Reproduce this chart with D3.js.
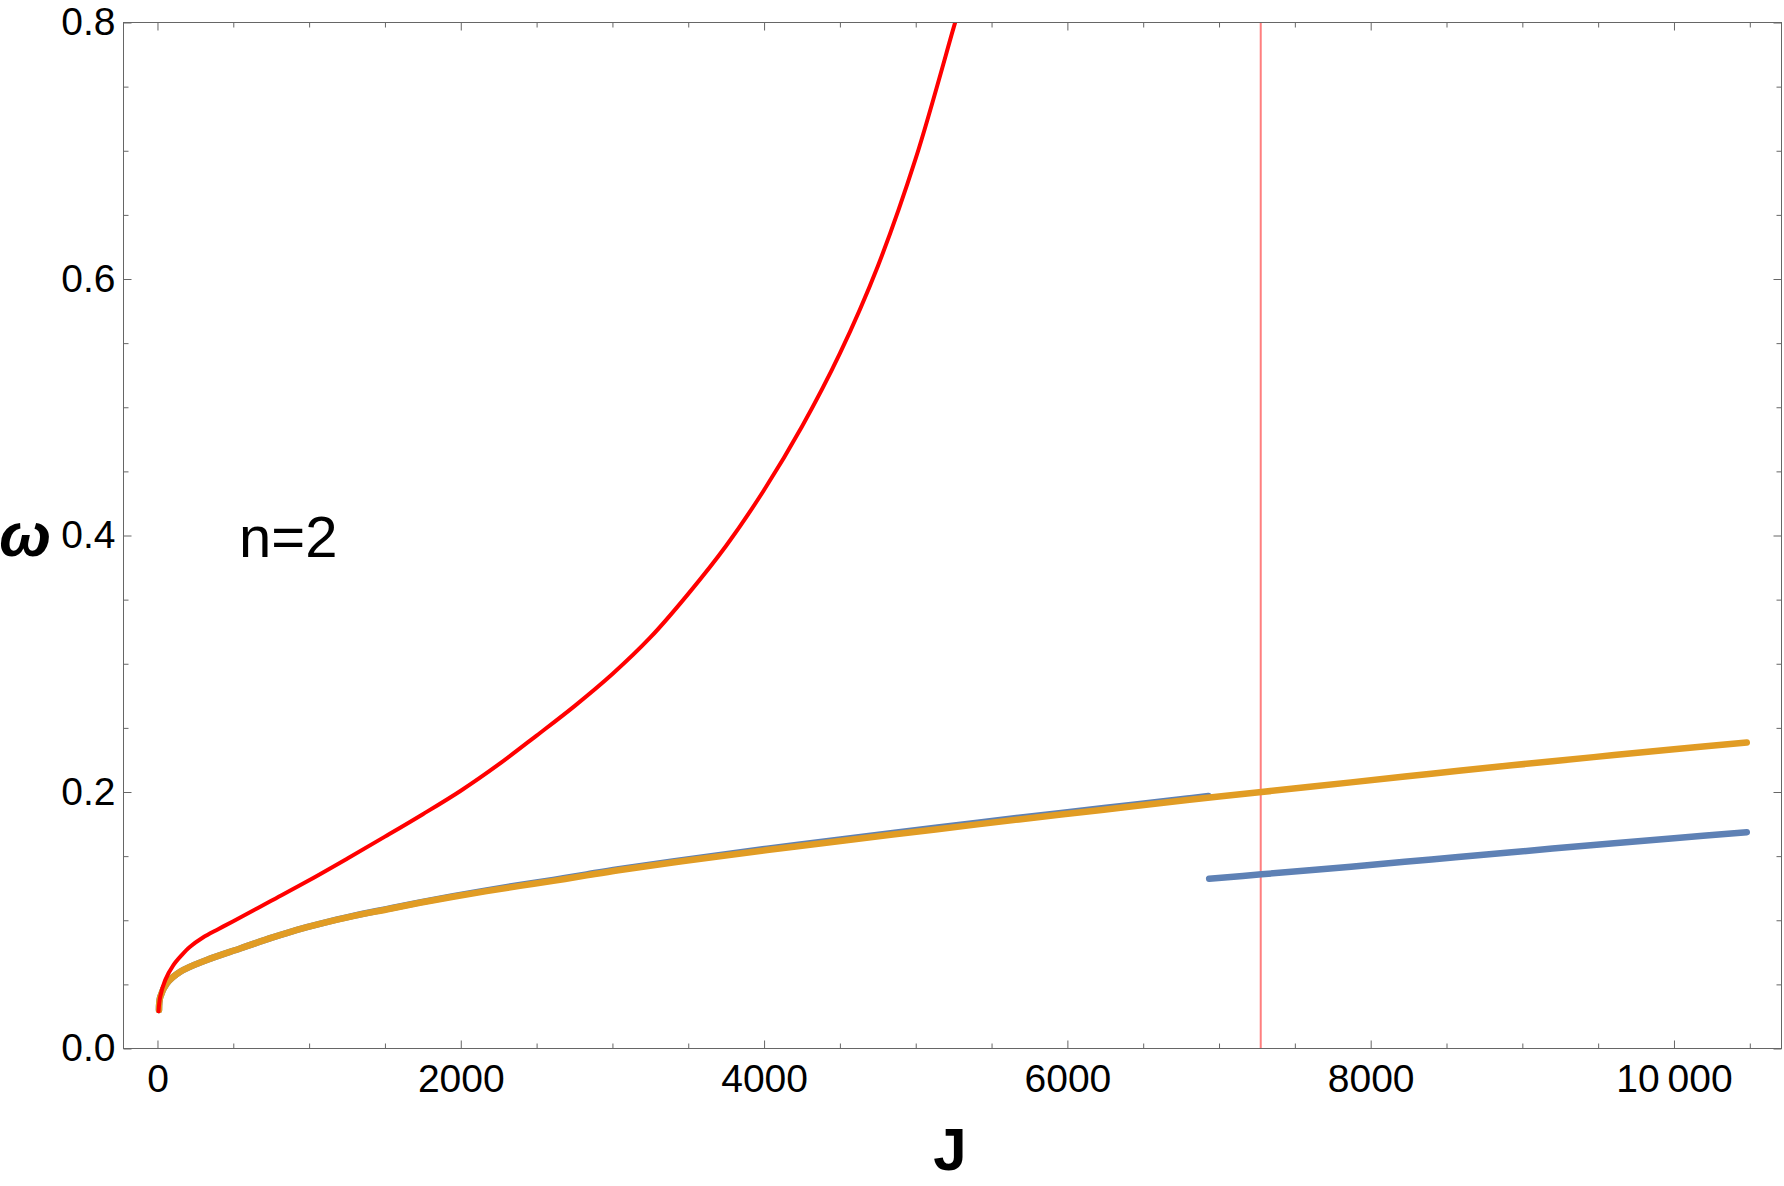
<!DOCTYPE html>
<html>
<head>
<meta charset="utf-8">
<script src="https://cdn.jsdelivr.net/npm/d3@7/dist/d3.min.js"></script>
<style>
  html, body { margin: 0; padding: 0; background: #fff; }
  #chart { width: 1784px; height: 1186px; }
  text { font-family: 'Liberation Sans', Arial, sans-serif; }
</style>
</head>
<body>
<div id="chart"></div>
<script>
// red curve
const redJ = [7, 18, 51, 105, 160, 215, 300, 400, 500, 750, 1000, 1250, 1500, 1750, 2000,
  2250, 2500, 2750, 3000, 3250, 3500, 3750, 4000, 4250, 4500, 4750, 5000, 5250, 5275];
const redW = [0.029, 0.0403, 0.0533, 0.065, 0.0728, 0.0793, 0.0865, 0.093, 0.0993, 0.1152, 0.1312,
  0.148, 0.1652, 0.1827, 0.201, 0.2215, 0.244, 0.267, 0.292, 0.3205, 0.3545, 0.392, 0.4355,
  0.485, 0.542, 0.61, 0.694, 0.796, 0.806];

// upper blue branch (ends where the lower one starts)
const blueUpperJ = [10, 18, 60, 150, 325, 545, 760, 920, 1070, 1290, 1510, 1730, 1950, 2170, 2390,
  2610, 2830, 3040, 3470, 4020, 4570, 5130, 5680, 6240, 6790, 6930];
const blueUpperW = [0.030, 0.040, 0.0505, 0.0598, 0.069, 0.078, 0.0866, 0.0925, 0.0972, 0.1034,
  0.1087, 0.1139, 0.1188, 0.1233, 0.1275, 0.1315, 0.1358, 0.1398, 0.1471, 0.1558, 0.164, 0.1721,
  0.1799, 0.1875, 0.195, 0.1968];

// lower blue branch
const blueLowerJ = [6935, 7280, 7870, 8400, 8930, 9470, 10000, 10480];
const blueLowerW = [0.1323, 0.1358, 0.1418, 0.1474, 0.153, 0.1587, 0.164, 0.1687];

// orange series
const orangeJ = [10, 18, 60, 150, 325, 545, 760, 920, 1070, 1290, 1510, 1730, 1950, 2170, 2390,
  2610, 2830, 3040, 3470, 4020, 4570, 5130, 5680, 6240, 6790, 7280, 7870, 8400, 8930, 9470, 10000, 10480];
const orangeW = [0.030, 0.040, 0.0505, 0.0598, 0.069, 0.078, 0.0866, 0.0925, 0.0972, 0.1032, 0.1084,
  0.1136, 0.1183, 0.1227, 0.1268, 0.1307, 0.135, 0.139, 0.1462, 0.1547, 0.1628, 0.1708, 0.1786,
  0.1862, 0.1937, 0.2, 0.2075, 0.2143, 0.2208, 0.2272, 0.2333, 0.2386];

const markerJ = 7275;

const xMajorTicks = [0, 2000, 4000, 6000, 8000, 10000];
const xTickLabels = ['0', '2000', '4000', '6000', '8000', '10\u2009000'];
const xMinorTicks = [500, 1000, 1500, 2500, 3000, 3500, 4500, 5000, 5500, 6500, 7000, 7500,
  8500, 9000, 9500, 10500];
const yMajorTicks = [0, 0.2, 0.4, 0.6, 0.8];
const yTickLabels = ['0.0', '0.2', '0.4', '0.6', '0.8'];
const yMinorTicks = [0.05, 0.1, 0.15, 0.25, 0.3, 0.35, 0.45, 0.5, 0.55, 0.65, 0.7, 0.75];

const config = {
  width: 1784,
  height: 1186,
  frame: { left: 123.5, right: 1781.5, top: 22.5, bottom: 1048.5 },
  xRange: [-224, 10709],
  yRange: [0, 0.8],
  colors: {
    red: '#ff0000',
    blue: '#5e81b5',
    orange: '#e19c24',
    marker: '#ff7f7f',
    frame: '#666666',
    text: '#000000'
  }
};

function zipSeries(js, ws) {
  return js.map((j, i) => ({ j: j, w: ws[i] }));
}

const svg = d3.select('#chart')
  .append('svg')
  .attr('width', config.width)
  .attr('height', config.height)
  .style('display', 'block');

const f = config.frame;
const x = d3.scaleLinear().domain(config.xRange).range([f.left, f.right]);
const y = d3.scaleLinear().domain(config.yRange).range([f.bottom, f.top]);

svg.append('defs').append('clipPath')
  .attr('id', 'plot-clip')
  .append('rect')
  .attr('x', f.left)
  .attr('y', f.top)
  .attr('width', f.right - f.left)
  .attr('height', f.bottom - f.top);

const plot = svg.append('g').attr('clip-path', 'url(#plot-clip)');

const line = d3.line()
  .x(d => x(d.j))
  .y(d => y(d.w))
  .curve(d3.curveCatmullRom.alpha(0.5));

function drawSeries(data, color, width) {
  plot.append('path')
    .datum(data)
    .attr('fill', 'none')
    .attr('stroke', color)
    .attr('stroke-width', width)
    .attr('stroke-linecap', 'round')
    .attr('stroke-linejoin', 'round')
    .attr('d', line);
}

// marker line
plot.append('line')
  .attr('x1', x(markerJ))
  .attr('x2', x(markerJ))
  .attr('y1', f.top)
  .attr('y2', f.bottom)
  .attr('stroke', config.colors.marker)
  .attr('stroke-width', 2);

drawSeries(zipSeries(blueUpperJ, blueUpperW), config.colors.blue, 6.5);
drawSeries(zipSeries(blueLowerJ, blueLowerW), config.colors.blue, 6.5);
drawSeries(zipSeries(orangeJ, orangeW), config.colors.orange, 6.5);
drawSeries(zipSeries(redJ, redW), config.colors.red, 4);

// frame with inward ticks on all four sides
function styleAxis(g) {
  g.select('.domain').remove();
  g.selectAll('.tick line').attr('stroke', config.colors.frame).attr('stroke-width', 1);
  g.selectAll('.tick text')
    .attr('fill', config.colors.text)
    .style('font-size', '39px')
    .style('font-family', "'Liberation Sans', Arial, sans-serif");
}

const xLabel = d3.scaleOrdinal().domain(xMajorTicks).range(xTickLabels);
const yLabel = d3.scaleOrdinal().domain(yMajorTicks).range(yTickLabels);

svg.append('g')
  .attr('transform', `translate(0,${f.bottom})`)
  .call(d3.axisBottom(x).tickValues(xMajorTicks).tickSizeInner(-8).tickSizeOuter(0)
    .tickPadding(16).tickFormat(d => xLabel(d)))
  .call(styleAxis);
svg.append('g')
  .attr('transform', `translate(0,${f.bottom})`)
  .call(d3.axisBottom(x).tickValues(xMinorTicks).tickSizeInner(-5).tickSizeOuter(0).tickFormat(''))
  .call(styleAxis);
svg.append('g')
  .attr('transform', `translate(0,${f.top})`)
  .call(d3.axisTop(x).tickValues(xMajorTicks).tickSizeInner(-8).tickSizeOuter(0).tickFormat(''))
  .call(styleAxis);
svg.append('g')
  .attr('transform', `translate(0,${f.top})`)
  .call(d3.axisTop(x).tickValues(xMinorTicks).tickSizeInner(-5).tickSizeOuter(0).tickFormat(''))
  .call(styleAxis);

svg.append('g')
  .attr('transform', `translate(${f.left},0)`)
  .call(d3.axisLeft(y).tickValues(yMajorTicks).tickSizeInner(-8).tickSizeOuter(0)
    .tickPadding(8).tickFormat(d => yLabel(d)))
  .call(styleAxis);
svg.append('g')
  .attr('transform', `translate(${f.left},0)`)
  .call(d3.axisLeft(y).tickValues(yMinorTicks).tickSizeInner(-5).tickSizeOuter(0).tickFormat(''))
  .call(styleAxis);
svg.append('g')
  .attr('transform', `translate(${f.right},0)`)
  .call(d3.axisRight(y).tickValues(yMajorTicks).tickSizeInner(-8).tickSizeOuter(0).tickFormat(''))
  .call(styleAxis);
svg.append('g')
  .attr('transform', `translate(${f.right},0)`)
  .call(d3.axisRight(y).tickValues(yMinorTicks).tickSizeInner(-5).tickSizeOuter(0).tickFormat(''))
  .call(styleAxis);

svg.append('rect')
  .attr('x', f.left)
  .attr('y', f.top)
  .attr('width', f.right - f.left)
  .attr('height', f.bottom - f.top)
  .attr('fill', 'none')
  .attr('stroke', config.colors.frame)
  .attr('stroke-width', 1);

// axis labels and annotation
svg.append('text')
  .attr('x', 950)
  .attr('y', 1170)
  .attr('text-anchor', 'middle')
  .style('font-size', '60px')
  .style('font-weight', 'bold')
  .text('J');

svg.append('text')
  .attr('x', 25)
  .attr('y', 556)
  .attr('text-anchor', 'middle')
  .style('font-size', '62px')
  .style('font-weight', 'bold')
  .style('font-style', 'italic')
  .text('ω');

svg.append('text')
  .attr('x', 239)
  .attr('y', 557)
  .style('font-size', '58px')
  .text('n=2');
</script>
</body>
</html>
